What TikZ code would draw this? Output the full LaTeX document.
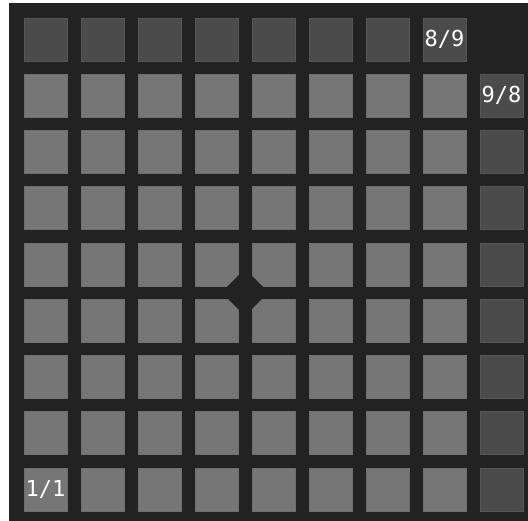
\documentclass[tikz,border=0pt]{standalone}
\usepackage{fontspec}
\newfontfamily\monofnt{DejaVu Sans Mono}
\definecolor{bgdark}{HTML}{222222}
\definecolor{celllight}{HTML}{767676}
\definecolor{celldark}{HTML}{4B4B4B}
\tikzset{
  cell/.style={rectangle, minimum width=43pt, minimum height=43pt, inner sep=0pt,
    fill=celllight, draw=celllight!94!black, line width=0.6pt},
  celld/.style={cell, fill=celldark, draw=celldark!94!white},
  lbl/.style={text=white, font=\monofnt\fontsize{22}{22}\selectfont}
}
\begin{document}
\begin{tikzpicture}[x=1pt,y=1pt]
\useasboundingbox (0,0) rectangle (528,521);
\fill[white] (0,0) rectangle (528,521);
\fill[bgdark] (9,0) rectangle (528,518);
\foreach \i in {1,...,9}{
  \foreach \j in {1,...,9}{
    \pgfmathsetmacro{\cx}{45.5+57*(\j-1)}
    \pgfmathsetmacro{\cy}{521-(39.5+56.25*(\i-1))}
    \ifnum\i=1
      \ifnum\j<9
        \node[celld] (sq-\i-\j) at (\cx,\cy) {};
      \fi
    \else
      \ifnum\j=9
        \node[celld] (sq-\i-\j) at (\cx,\cy) {};
      \else
        \node[cell] (sq-\i-\j) at (\cx,\cy) {};
      \fi
    \fi
  }
}
\node[lbl] at (sq-9-1) {1/1};
\node[lbl] at (sq-1-8) {8/9};
\node[lbl] at (sq-2-9) {9/8};
\coordinate (hub) at (245,228.5);
\fill[bgdark] ([xshift=-23.5pt]hub) -- ([yshift=23.5pt]hub) -- ([xshift=23.5pt]hub) -- ([yshift=-23.5pt]hub) -- cycle;
\end{tikzpicture}
\end{document}
